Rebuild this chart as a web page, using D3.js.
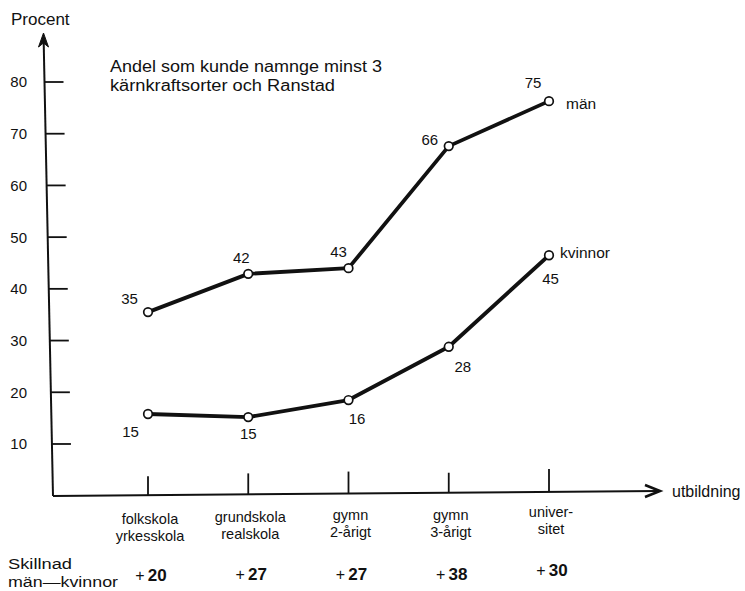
<!DOCTYPE html>
<html><head><meta charset="utf-8">
<script src="https://cdn.jsdelivr.net/npm/d3@7"></script>
<style>
body{margin:0;background:#fff;}
text{font-family:"Liberation Sans",Arial,Helvetica,sans-serif;fill:#111;}
</style></head>
<body><svg id="chart" width="745" height="591"></svg>
<script>
// ---- data ----
const categories = ["folkskola\nyrkesskola","grundskola\nrealskola","gymn\n2-årigt","gymn\n3-årigt","univer-\nsitet"];
const manValues = [35.5, 42.9, 44.0, 67.6, 76.3];       // plotted positions
const kvinnorValues = [15.8, 15.2, 18.5, 28.8, 46.5];
const manLabels = [35, 42, 43, 66, 75];                  // printed value labels
const kvinnorLabels = [15, 15, 16, 28, 45];
const diffLabels = [20, 27, 27, 38, 30];                 // Skillnad män–kvinnor
const yTicks = [10, 20, 30, 40, 50, 60, 70, 80];

// ---- layout ----
const svg = d3.select("#chart");
const ink = "#111";
const y = d3.scaleLinear().domain([0, 80]).range([495.7, 82]);
const x = d3.scalePoint().domain(d3.range(categories.length)).range([148, 549]);
const axisTopY = 33, axisBotY = 496;
// slightly slanted hand-drawn vertical axis
const axisX = d3.scaleLinear().domain([axisTopY, axisBotY]).range([43.5, 53]);
const xAxisEnd = 660;
const xAxisY = d3.scaleLinear().domain([axisX(axisBotY), xAxisEnd]).range([496, 491]);

// y axis line + arrowhead
svg.append("line").attr("x1", axisX(axisTopY + 8)).attr("y1", axisTopY + 8)
  .attr("x2", axisX(axisBotY)).attr("y2", axisBotY).attr("stroke", ink).attr("stroke-width", 2);
const ax = axisX(axisTopY);
svg.append("path")
  .attr("d", `M${ax},${axisTopY} L${ax - 5},${axisTopY + 14} L${ax},${axisTopY + 10} L${ax + 5},${axisTopY + 14} Z`)
  .attr("fill", ink).attr("stroke", ink).attr("stroke-width", 1).attr("stroke-linejoin", "miter");

// y ticks + labels
const yt = svg.append("g");
yTicks.forEach(v => {
  const yy = y(v);
  yt.append("line").attr("x1", axisX(yy)).attr("x2", axisX(yy) + 19)
    .attr("y1", yy).attr("y2", yy).attr("stroke", ink).attr("stroke-width", 1.8);
  yt.append("text").attr("x", 27).attr("y", yy).attr("dy", "0.36em")
    .attr("text-anchor", "end").attr("font-size", 15).text(v);
});

svg.append("text").attr("x", 11).attr("y", 25).attr("font-size", 17).text("Procent");

// x axis + arrow
svg.append("line").attr("x1", axisX(axisBotY)).attr("y1", xAxisY(axisX(axisBotY)))
  .attr("x2", xAxisEnd - 2).attr("y2", xAxisY(xAxisEnd)).attr("stroke", ink).attr("stroke-width", 2);
svg.append("path")
  .attr("d", `M${xAxisEnd - 15},${xAxisY(xAxisEnd) - 6} L${xAxisEnd},${xAxisY(xAxisEnd)} L${xAxisEnd - 15},${xAxisY(xAxisEnd) + 6}`)
  .attr("fill", "none").attr("stroke", ink).attr("stroke-width", 2.6).attr("stroke-linejoin", "miter");
svg.append("text").attr("x", xAxisEnd + 12).attr("y", xAxisY(xAxisEnd)).attr("dy", "0.36em")
  .attr("font-size", 16).text("utbildning");

// category ticks and labels
const tickLen = [19, 21, 22, 20, 23];
const labTop = [519, 517, 515, 515, 512];
categories.forEach((c, i) => {
  const xx = x(i);
  const base = xAxisY(xx);
  svg.append("line").attr("x1", xx).attr("x2", xx).attr("y1", base).attr("y2", base - tickLen[i])
    .attr("stroke", ink).attr("stroke-width", 1.8);
  c.split("\n").forEach((l, j) => {
    svg.append("text").attr("x", xx + 2).attr("y", labTop[i] + j * 17).attr("dy", "0.36em")
      .attr("text-anchor", "middle").attr("font-size", 14.5).text(l);
  });
});

// title
const title = svg.append("g").attr("font-size", 16);
title.append("text").attr("x", 110).attr("y", 71.5)
  .attr("textLength", 272).attr("lengthAdjust", "spacingAndGlyphs").text("Andel som kunde namnge minst 3");
title.append("text").attr("x", 110).attr("y", 90.5)
  .attr("textLength", 225).attr("lengthAdjust", "spacingAndGlyphs").text("kärnkraftsorter och Ranstad");

// series lines with open circle markers
const line = d3.line().x((d, i) => x(i)).y(d => y(d));
[manValues, kvinnorValues].forEach(vals => {
  svg.append("path").attr("d", line(vals)).attr("fill", "none").attr("stroke", ink)
    .attr("stroke-width", 3.8).attr("stroke-linejoin", "round");
  svg.selectAll(null).data(vals).enter().append("circle")
    .attr("cx", (d, i) => x(i)).attr("cy", d => y(d)).attr("r", 4.3)
    .attr("fill", "#fff").attr("stroke", ink).attr("stroke-width", 1.7);
});

// value labels
const manOff = [[-18.5, -14], [-7, -16.5], [-10, -17], [-19, -7], [-16, -18.5]];
const kvOff = [[-17.5, 18], [0, 17], [8.5, 19], [14, 20], [1.5, 23]];
manLabels.forEach((v, i) => {
  svg.append("text").attr("x", x(i) + manOff[i][0]).attr("y", y(manValues[i]) + manOff[i][1])
    .attr("dy", "0.36em").attr("text-anchor", "middle").attr("font-size", 15).text(v);
});
kvinnorLabels.forEach((v, i) => {
  svg.append("text").attr("x", x(i) + kvOff[i][0]).attr("y", y(kvinnorValues[i]) + kvOff[i][1])
    .attr("dy", "0.36em").attr("text-anchor", "middle").attr("font-size", 15).text(v);
});

// series names
const last = categories.length - 1;
svg.append("text").attr("x", x(last) + 17).attr("y", y(manValues[last]) + 2).attr("dy", "0.36em")
  .attr("font-size", 15.5).text("män");
svg.append("text").attr("x", x(last) + 11).attr("y", y(kvinnorValues[last]) - 3).attr("dy", "0.36em")
  .attr("font-size", 15.5).text("kvinnor");

// difference row
const sk = svg.append("g").attr("font-size", 15.5);
sk.append("text").attr("x", 8).attr("y", 569)
  .attr("textLength", 64).attr("lengthAdjust", "spacingAndGlyphs").text("Skillnad");
sk.append("text").attr("x", 8).attr("y", 587)
  .attr("textLength", 110).attr("lengthAdjust", "spacingAndGlyphs").text("män—kvinnor");
const diffBase = [581, 580, 580, 580, 576];
diffLabels.forEach((v, i) => {
  const t = svg.append("text").attr("x", x(i) + 3).attr("y", diffBase[i])
    .attr("text-anchor", "middle").attr("font-size", 17);
  t.append("tspan").attr("font-weight", "normal").attr("font-size", 16).text("+\u2009");
  t.append("tspan").attr("font-weight", "bold").text(v);
});
</script></body></html>
